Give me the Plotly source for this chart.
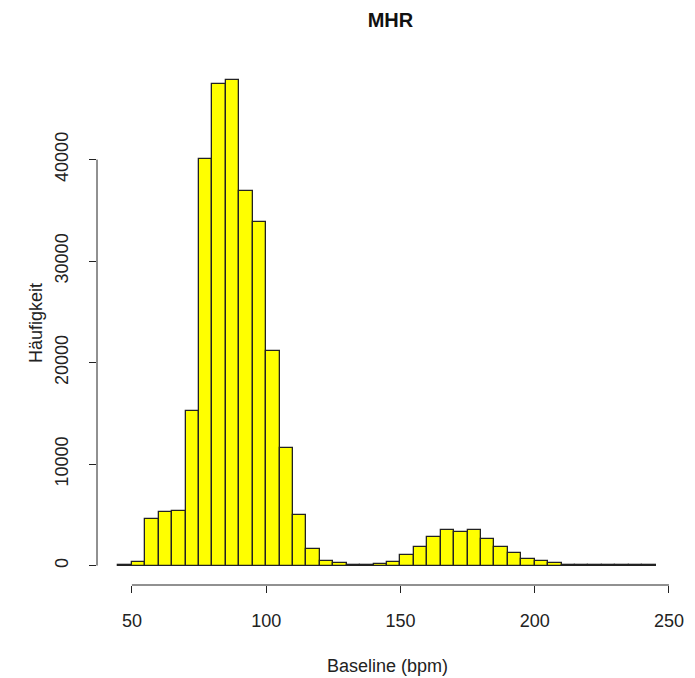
import plotly.graph_objects as go

# Histogram data: bins of width 5 from 45 to 245
bin_starts = list(range(45, 245, 5))
counts = [100, 400, 4600, 5250, 5420, 15270, 40100, 47400, 47800, 36950,
          33860, 21100, 11560, 5000, 1600, 420, 240, 60, 60, 200,
          320, 1000, 1880, 2770, 3520, 3330, 3520, 2620, 1880, 1290,
          680, 430, 240, 30, 20, 15, 10, 10, 10, 10]
bin_width = 5
x_ticks = [50, 100, 150, 200, 250]
y_ticks = [0, 10000, 20000, 30000, 40000]
y_tick_labels = ["0", "10000", "20000", "30000", "40000"]

centers = [b + bin_width / 2 for b in bin_starts]
ymax = max(counts)
x_lo, x_hi = bin_starts[0], bin_starts[-1] + bin_width
xpad = (x_hi - x_lo) * 0.04
ypad = ymax * 0.04

FONT = "Liberation Sans, Arial, sans-serif"
FS = 18

fig = go.Figure()
fig.add_trace(go.Bar(
    x=centers, y=counts, width=bin_width,
    marker=dict(color="#FFFF00", line=dict(color="#222222", width=1.3)),
    showlegend=False,
))

fig.update_layout(
    width=695, height=678,
    paper_bgcolor="white", plot_bgcolor="white",
    margin=dict(l=97, r=11, t=61, b=93),
    font=dict(family=FONT, size=FS, color="#222222"),
    title=dict(text="<b>MHR</b>", x=0.5618, xanchor="center",
               y=1 - 20 / 678, yanchor="middle", yref="container",
               font=dict(family=FONT, size=20, color="#111111")),
    bargap=0,
    xaxis=dict(range=[x_lo - xpad, x_hi + xpad], tickvals=x_ticks,
               ticks="outside", ticklen=7, tickwidth=1, tickcolor="#222222",
               showgrid=False, zeroline=False, showline=False,
               ticklabelstandoff=12,
               tickfont=dict(size=FS), fixedrange=True),
    yaxis=dict(range=[-ypad, ymax + ypad], tickvals=y_ticks,
               ticktext=y_tick_labels,
               ticks="outside", ticklen=7, tickwidth=1, tickcolor="#222222",
               showgrid=False, zeroline=False, showline=False,
               ticklabelstandoff=14,
               tickangle=-90, tickfont=dict(size=FS), fixedrange=True),
    shapes=[
        dict(type="line", xref="x", yref="paper", x0=x_ticks[0], x1=x_ticks[-1],
             y0=0, y1=0, line=dict(color="#222222", width=1)),
        dict(type="line", xref="paper", yref="y", x0=0, x1=0,
             y0=y_ticks[0], y1=y_ticks[-1], line=dict(color="#222222", width=1)),
    ],
    annotations=[
        dict(text="Baseline (bpm)", xref="paper", yref="paper", x=0.5, y=0,
             yshift=-81, showarrow=False, yanchor="middle",
             font=dict(size=FS)),
        dict(text="Häufigkeit", xref="paper", yref="paper", x=0, y=0.5,
             xshift=-61, showarrow=False, textangle=-90, xanchor="center",
             font=dict(size=FS)),
    ],
)

fig.write_html("out.html")
